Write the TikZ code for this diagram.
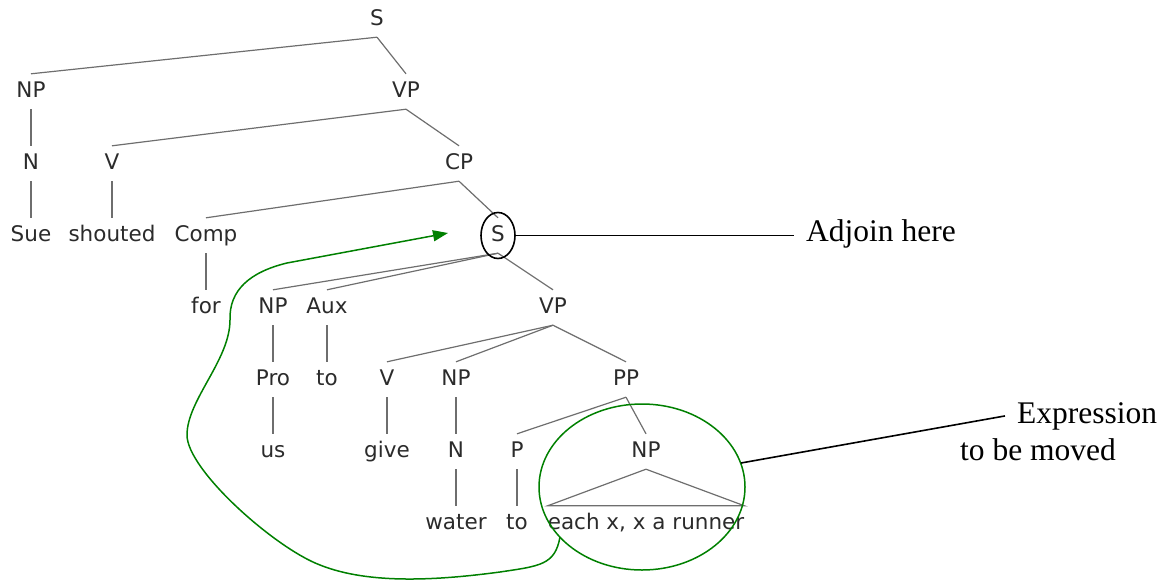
\documentclass[tikz,border=0pt]{standalone}
\usepackage{fontspec}
\usepackage{tikz}
\usetikzlibrary{arrows.meta,calc}
\newfontfamily\treefont{DejaVu Sans}
\newfontfamily\notefont{Liberation Serif}
\definecolor{ink}{HTML}{2B2B2B}
\definecolor{branchgray}{HTML}{6E6E6E}
\definecolor{movegreen}{HTML}{008000}

\begin{document}
\begin{tikzpicture}[x=1pt,y=-1pt,
  cat/.style={font=\treefont\fontsize{21.5}{25}\selectfont,text=ink,anchor=base,
    inner xsep=0pt,inner ysep=8pt,text height=15pt,text depth=4pt},
  branch/.style={branchgray,line width=1.2pt},
  note/.style={font=\notefont\fontsize{31.5}{37}\selectfont,anchor=base west,
    inner xsep=12pt,inner ysep=0pt},
  pointer/.style={black,line width=1.6pt},
  move/.style={movegreen,line width=1.5pt}]
  \useasboundingbox (0,0) rectangle (1169,584);
  % the tree, one row every 72px
  \foreach \n/\x/\row/\lab in {s0/377/0/S, np1/31/1/NP, vp1/406/1/VP,
      n2/31/2/N, v2/112/2/V, cp2/459/2/CP,
      sue3/31/3/Sue, shouted3/112/3/shouted, comp3/206/3/Comp, s3/498/3/S,
      for4/206/4/for, np4/273/4/NP, aux4/327/4/Aux, vp4/553/4/VP,
      pro5/273/5/Pro, to5/327/5/to, v5/387/5/V, np5/456/5/NP, pp5/626/5/PP,
      us6/273/6/us, give6/387/6/give, n6/456/6/N, p6/517/6/P, np6/646/6/NP,
      water7/456/7/water, to7/517/7/to}{
    \node[cat] (\n) at (\x,{25+72*\row}) {\lab};}
  \node[cat] (leaf7) at (646,529) {each x, x a runner};
  \foreach \a/\b in {s0/np1, s0/vp1, np1/n2, vp1/v2, vp1/cp2, n2/sue3,
      v2/shouted3, cp2/comp3, cp2/s3, comp3/for4, s3/np4, s3/aux4, s3/vp4,
      np4/pro5, aux4/to5, vp4/v5, vp4/np5, vp4/pp5, pro5/us6, v5/give6,
      np5/n6, pp5/p6, pp5/np6, n6/water7, p6/to7}{
    \draw[branch] (\a.south) -- (\b.north);}
  \draw[branch] (np6.south) -- (leaf7.north west) -- (leaf7.north east) -- cycle;
  % adjunction site
  \draw[pointer] (s3.center) ellipse [x radius=17pt, y radius=23pt];
  \node[note] (adjoin) at (794,241) {Adjoin here};
  \draw[pointer] ([xshift=17pt]s3.center) -- (s3.center -| adjoin.west);
  % moved expression
  \coordinate (moved) at (642,487);
  \draw[move] (moved) ellipse [x radius=103pt, y radius=83pt];
  \coordinate (grab) at (741,463);
  \node[note] (expr1) at (1005,423) {Expression};
  \node[note] (expr2) at (948,460) {to be moved};
  \draw[pointer] (grab) -- (expr1.west);
  % path of the movement
  \coordinate (mvstart) at (560,537);
  \coordinate (mvend) at (448,233);
  \draw[move,-{Triangle[length=15pt,width=11pt]}] (mvstart)
    .. controls (555,565) and (540,566) .. (500,572)
    .. controls (440,580) and (370,585) .. (320,565)
    .. controls (275,548) and (187,470) .. (187,435)
    .. controls (187,400) and (230,360) .. (230,320)
    .. controls (229,290) and (250,272) .. (287,263)
    -- (mvend);
\end{tikzpicture}
\end{document}
